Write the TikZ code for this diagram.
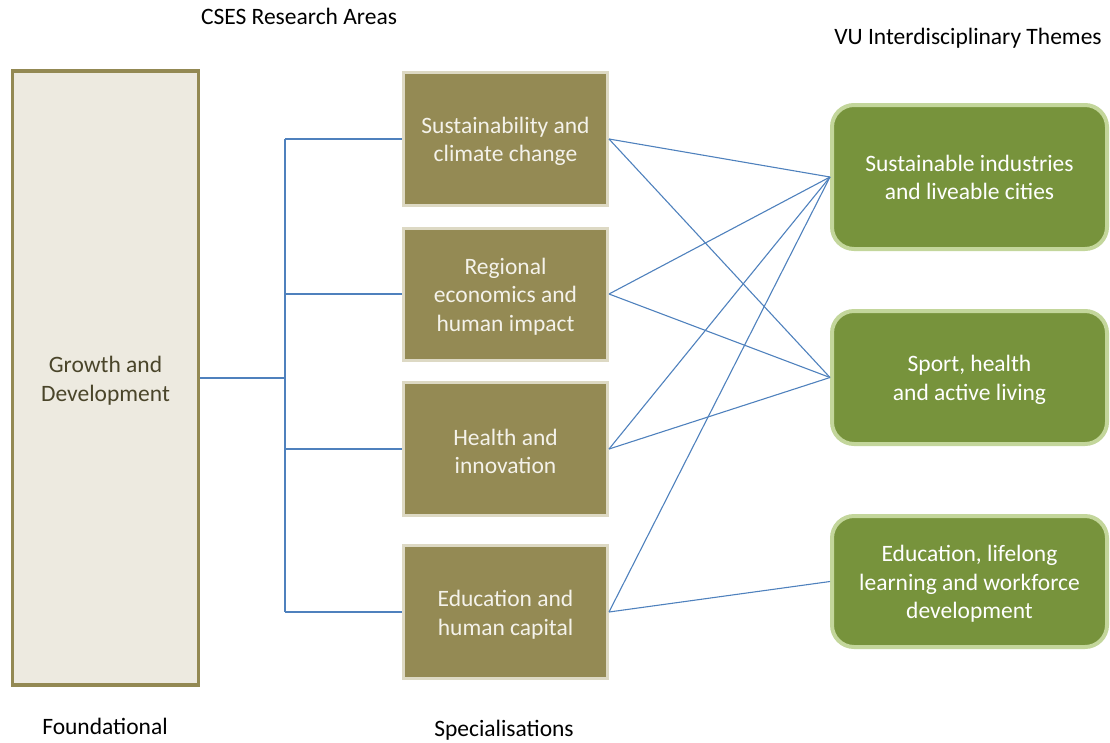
\documentclass[tikz,border=0pt]{standalone}
\usepackage{fontspec}
\setmainfont{Carlito}
\definecolor{leftfill}{HTML}{EDEAE0}
\definecolor{leftdraw}{HTML}{938953}
\definecolor{leftText}{HTML}{4A452A}
\definecolor{midfill}{HTML}{948A54}
\definecolor{middraw}{HTML}{DDD9C4}
\definecolor{midText}{HTML}{F4F2EA}
\definecolor{rightfill}{HTML}{77933C}
\definecolor{rightdraw}{HTML}{C3D69B}
\definecolor{linkblue}{HTML}{4F81BD}
\newcommand{\tstrut}{\rule{0pt}{21.5pt}}
\newcommand{\tstrutsmall}{\rule{0pt}{17.5pt}}
\begin{document}
\begin{tikzpicture}[x=1pt,y=-1pt,
  txt/.style={font=\fontsize{23.5}{28.5}\selectfont, align=center, inner sep=0pt},
  leftbox/.style={txt, draw=leftdraw, fill=leftfill, line width=3.5pt, text=leftText, minimum width=186pt, minimum height=614pt},
  midbox/.style={txt, draw=middraw, fill=midfill, line width=3pt, text=midText, minimum width=204pt, minimum height=133pt},
  rightbox/.style={txt, draw=rightdraw, fill=rightfill, line width=4pt, text=white, rounded corners=22pt, minimum width=275pt},
  link/.style={draw=linkblue, line width=1.1pt},
  title/.style={font=\fontsize{23.5}{28.5}\selectfont, anchor=base, inner sep=0pt}
]
\useasboundingbox (0,0) rectangle (1110,742);

\node[leftbox] (L) at (105.5,378) {\tstrut Growth and\\Development};

\node[midbox] (m1) at (505.5,139) {\tstrut Sustainability and\\climate change};
\node[midbox, minimum height=132pt] (m2) at (505.5,294) {\tstrut Regional\\economics and\\human impact};
\node[midbox] (m3) at (505.5,449) {\tstrut Health and\\innovation};
\node[midbox] (m4) at (505.5,612) {\tstrut Education and\\human capital};

\node[rightbox, minimum height=144pt] (r1) at (969.5,177) {\tstrutsmall Sustainable industries\\and liveable cities};
\node[rightbox, minimum height=133pt] (r2) at (969.5,377.5) {\tstrut Sport, health\\and active living};
\node[rightbox, minimum height=131pt] (r3) at (969.5,581.5) {\tstrut Education, lifelong\\learning and workforce\\development};

\node[title] (t1) at (299,24) {CSES Research Areas};
\node[title] (t2) at (968,44) {VU Interdisciplinary Themes};
\node[title] (t3) at (105,734) {Foundational};
\node[title] (t4) at (504,736) {Specialisations};

\coordinate (j) at (285,378);
\coordinate (jt) at (285,139);
\coordinate (jb) at (285,612);

\draw[link] (L.east) -- (j);
\draw[link] (jt) -- (jb);
\draw[link] (jt) -- (m1.west);
\draw[link] (j |- m2.west) -- (m2.west);
\draw[link] (j |- m3.west) -- (m3.west);
\draw[link] (jb) -- (m4.west);

\draw[link] (m1.east) -- (r1.west);
\draw[link] (m1.east) -- (r2.west);
\draw[link] (m2.east) -- (r1.west);
\draw[link] (m2.east) -- (r2.west);
\draw[link] (m3.east) -- (r1.west);
\draw[link] (m3.east) -- (r2.west);
\draw[link] (m4.east) -- (r1.west);
\draw[link] (m4.east) -- (r3.west);
\end{tikzpicture}
\end{document}
